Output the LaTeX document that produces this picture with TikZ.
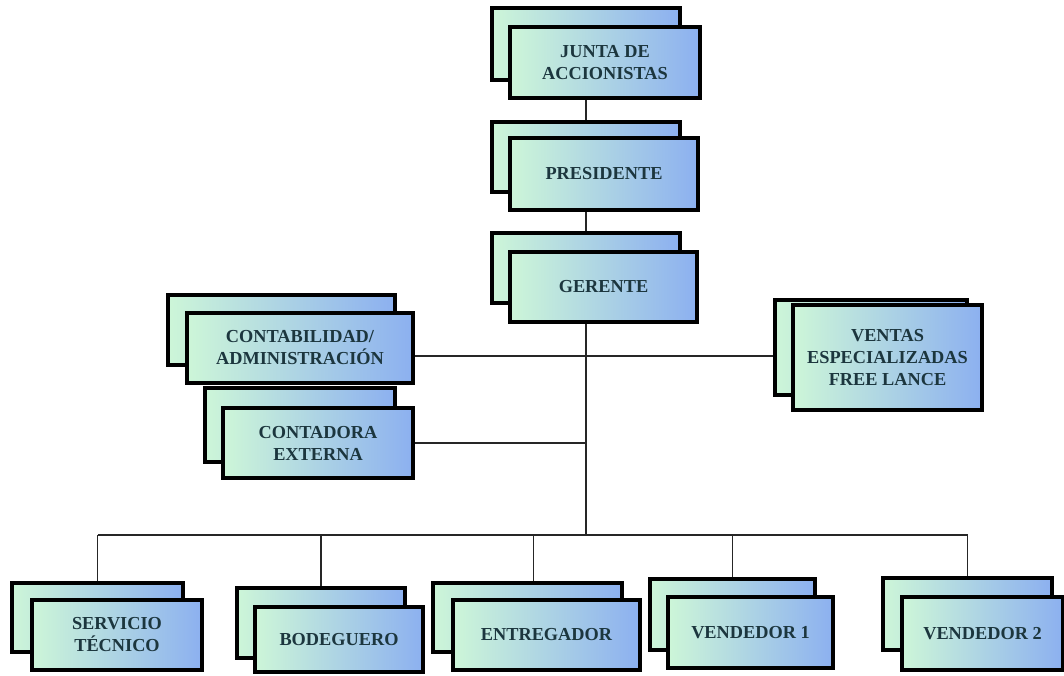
\documentclass[tikz,border=0pt]{standalone}
\usepackage{fontspec}
\setmainfont{Liberation Serif}
\usepackage{tikz}
\definecolor{boxMint}{RGB}{205,246,216}
\definecolor{boxMid}{RGB}{214,230,246}
\definecolor{boxBlue}{RGB}{140,176,240}
\definecolor{boxText}{RGB}{28,54,62}
\tikzstyle{backBox}=[shape = rectangle, draw = black, line width = 3.6pt, left color = boxMint, middle color = boxMid, right color = boxBlue, inner sep = 0pt]
\tikzstyle{frontBox}=[backBox, text = boxText, align = center, font = \bfseries\fontsize{18.3}{22}\selectfont]
\tikzstyle{linkLine}=[line width = 1.4pt, draw = black!85]

\begin{document}
\begin{tikzpicture}[x = 1pt, y = -1pt]
\useasboundingbox (0,0) rectangle (1064,675);
% top column
\node[backBox, minimum width = 188, minimum height = 72] (juntaB) at (586,44) {};
\node[frontBox, minimum width = 190, minimum height = 71] (junta) at (605,62.5) {JUNTA DE\\ACCIONISTAS};
\node[backBox, minimum width = 188, minimum height = 70] (presidenteB) at (586,157) {};
\node[frontBox, minimum width = 188, minimum height = 72] (presidente) at (604,174) {PRESIDENTE};
\node[backBox, minimum width = 188, minimum height = 70] (gerenteB) at (586,268) {};
\node[frontBox, minimum width = 187, minimum height = 70] (gerente) at (603.5,287) {GERENTE};
% staff
\node[backBox, minimum width = 227, minimum height = 70] (contaB) at (281.5,330) {};
\node[frontBox, minimum width = 226, minimum height = 70] (conta) at (300,348) {CONTABILIDAD/\\ADMINISTRACI\'ON};
\node[backBox, minimum width = 190, minimum height = 74] (contadoraB) at (300,425) {};
\node[frontBox, minimum width = 190, minimum height = 70] (contadora) at (318,443) {CONTADORA\\EXTERNA};
\node[backBox, minimum width = 192, minimum height = 95] (ventasB) at (871,347.5) {};
\node[frontBox, minimum width = 189, minimum height = 105] (ventas) at (887.5,357.5) {VENTAS\\ESPECIALIZADAS\\FREE LANCE};
% bottom row
\node[backBox, minimum width = 171, minimum height = 69] (servicioB) at (97.5,617.5) {};
\node[frontBox, minimum width = 170, minimum height = 70] (servicio) at (117,635) {SERVICIO\\T\'ECNICO};
\node[backBox, minimum width = 168, minimum height = 70] (bodegueroB) at (321,623) {};
\node[frontBox, minimum width = 168, minimum height = 65] (bodeguero) at (339,639.5) {BODEGUERO};
\node[backBox, minimum width = 189, minimum height = 69] (entregadorB) at (527.5,617.5) {};
\node[frontBox, minimum width = 187, minimum height = 70] (entregador) at (546.5,635) {ENTREGADOR};
\node[backBox, minimum width = 165, minimum height = 71] (vendedorUnoB) at (732.5,614.5) {};
\node[frontBox, minimum width = 165, minimum height = 71] (vendedorUno) at (750.5,632.5) {VENDEDOR 1};
\node[backBox, minimum width = 169, minimum height = 72] (vendedorDosB) at (967.5,614) {};
\node[frontBox, minimum width = 161, minimum height = 73] (vendedorDos) at (982.5,633.5) {VENDEDOR 2};
\coordinate (trunk) at (586,535);
% links
\draw[linkLine] (juntaB.center |- junta.south) -- (presidenteB.north);
\draw[linkLine] (presidenteB.center |- presidente.south) -- (gerenteB.north);
\draw[linkLine] (gerenteB.center |- gerente.south) -- (trunk);
\draw[linkLine] ([yshift = -8pt]conta.east) -- ([yshift = -8pt]conta.east -| ventasB.west);
\draw[linkLine] (contadora.east) -- (contadora.east -| trunk);
\draw[linkLine] (servicioB.north |- trunk) -- (vendedorDosB.north |- trunk);
\draw[linkLine] (servicioB.north |- trunk) -- (servicioB.north);
\draw[linkLine] (bodegueroB.north |- trunk) -- (bodegueroB.north);
\draw[linkLine] ([xshift = 6pt]entregadorB.north |- trunk) -- ([xshift = 6pt]entregadorB.north);
\draw[linkLine] (vendedorUnoB.north |- trunk) -- (vendedorUnoB.north);
\draw[linkLine] (vendedorDosB.north |- trunk) -- (vendedorDosB.north);
\end{tikzpicture}
\end{document}
